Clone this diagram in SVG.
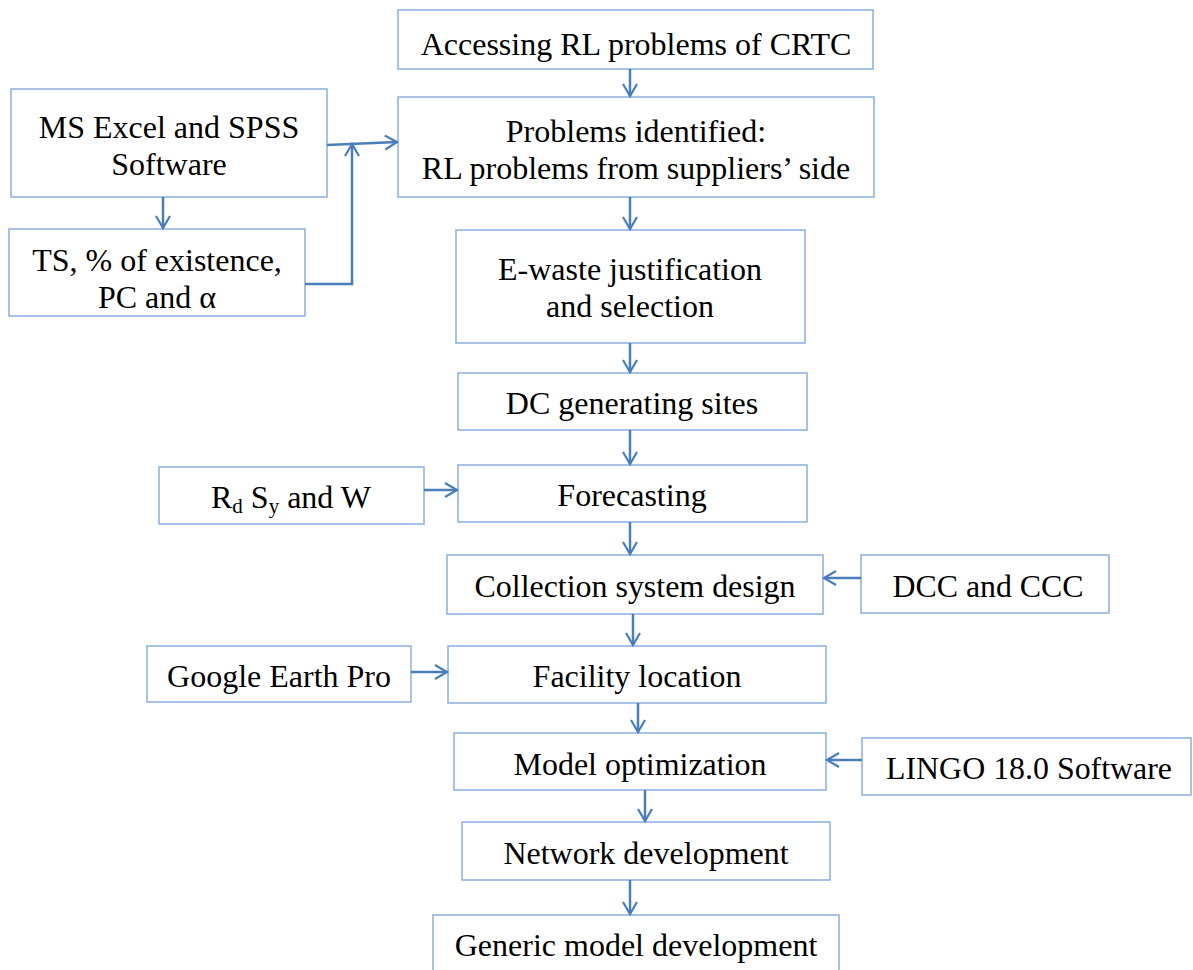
<svg xmlns="http://www.w3.org/2000/svg" width="1193" height="970" viewBox="0 0 1193 970">
<defs>
<style>
.box{fill:#fff;stroke:#8AAEDC;stroke-width:1.5}
.t{font-family:'Liberation Serif','Times New Roman','DejaVu Serif',serif;font-size:32px;fill:#000;text-anchor:middle}
.c{fill:none;stroke:#4A7EBB;stroke-width:2.5}
.sub{font-size:21px}
</style>
<marker id="ah" markerWidth="16" markerHeight="16" viewBox="0 0 16 16" refX="13" refY="8" orient="auto" markerUnits="userSpaceOnUse">
<path d="M1 1 L13 8 L1 15" fill="none" stroke="#4A7EBB" stroke-width="2.2"/>
</marker>
</defs>
<rect width="1193" height="970" fill="#fff"/>
<g id="n1"><rect class="box" x="398" y="10" width="475" height="59"/><text class="t" x="636" y="55">Accessing RL problems of CRTC</text></g>
<g id="n2"><rect class="box" x="398" y="97" width="476" height="100"/><text class="t" x="636" y="142">Problems identified:</text><text class="t" x="636" y="179">RL problems from suppliers’ side</text></g>
<g id="n3"><rect class="box" x="11" y="89" width="316" height="108"/><text class="t" x="169" y="138">MS Excel and SPSS</text><text class="t" x="169" y="175">Software</text></g>
<g id="n4"><rect class="box" x="9" y="229" width="296" height="87"/><text class="t" x="157" y="271">TS, % of existence,</text><text class="t" x="157" y="308">PC and α</text></g>
<g id="n5"><rect class="box" x="456" y="230" width="349" height="113"/><text class="t" x="630" y="280">E-waste justification</text><text class="t" x="630" y="317">and selection</text></g>
<g id="n6"><rect class="box" x="458" y="373" width="349" height="57"/><text class="t" x="632" y="414">DC generating sites</text></g>
<g id="n7"><rect class="box" x="458" y="465" width="349" height="57"/><text class="t" x="632" y="506">Forecasting</text></g>
<g id="n8"><rect class="box" x="159" y="467" width="265" height="57"/><text class="t" x="291" y="508">R<tspan class="sub" dy="5">d</tspan><tspan dy="-5"> S</tspan><tspan class="sub" dy="5">y</tspan><tspan dy="-5"> and W</tspan></text></g>
<g id="n9"><rect class="box" x="447" y="555" width="376" height="59"/><text class="t" x="635" y="597" textLength="321" lengthAdjust="spacingAndGlyphs">Collection system design</text></g>
<g id="n10"><rect class="box" x="861" y="555" width="248" height="58"/><text class="t" x="988" y="597" textLength="191" lengthAdjust="spacingAndGlyphs">DCC and CCC</text></g>
<g id="n11"><rect class="box" x="147" y="646" width="264" height="56"/><text class="t" x="279" y="687">Google Earth Pro</text></g>
<g id="n12"><rect class="box" x="448" y="646" width="378" height="57"/><text class="t" x="637" y="687">Facility location</text></g>
<g id="n13"><rect class="box" x="454" y="733" width="372" height="57"/><text class="t" x="640" y="775" textLength="253" lengthAdjust="spacingAndGlyphs">Model optimization</text></g>
<g id="n14"><rect class="box" x="862" y="738" width="329" height="57"/><text class="t" x="1029" y="779" textLength="286" lengthAdjust="spacingAndGlyphs">LINGO 18.0 Software</text></g>
<g id="n15"><rect class="box" x="462" y="822" width="368" height="58"/><text class="t" x="646" y="864">Network development</text></g>
<g id="n16"><rect class="box" x="433" y="915" width="406" height="70"/><text class="t" x="636" y="956">Generic model development</text></g>
<g id="connectors">
<line class="c" x1="630" y1="69" x2="630" y2="96" marker-end="url(#ah)"/>
<line class="c" x1="630" y1="197" x2="630" y2="229" marker-end="url(#ah)"/>
<line class="c" x1="630" y1="343" x2="630" y2="372" marker-end="url(#ah)"/>
<line class="c" x1="630" y1="430" x2="630" y2="464" marker-end="url(#ah)"/>
<line class="c" x1="630" y1="522" x2="630" y2="554" marker-end="url(#ah)"/>
<line class="c" x1="633" y1="614" x2="633" y2="645" marker-end="url(#ah)"/>
<line class="c" x1="638" y1="703" x2="638" y2="732" marker-end="url(#ah)"/>
<line class="c" x1="645" y1="790" x2="645" y2="821" marker-end="url(#ah)"/>
<line class="c" x1="630" y1="880" x2="630" y2="914" marker-end="url(#ah)"/>
<line class="c" x1="163" y1="197" x2="163" y2="228" marker-end="url(#ah)"/>
<line class="c" x1="327" y1="145" x2="397" y2="142" marker-end="url(#ah)"/>
<polyline class="c" points="305,284 352,284 352,144" marker-end="url(#ah)"/>
<line class="c" x1="424" y1="490" x2="457" y2="490" marker-end="url(#ah)"/>
<line class="c" x1="861" y1="578" x2="824" y2="578" marker-end="url(#ah)"/>
<line class="c" x1="411" y1="672" x2="447" y2="672" marker-end="url(#ah)"/>
<line class="c" x1="862" y1="760" x2="827" y2="760" marker-end="url(#ah)"/>
</g>
</svg>
